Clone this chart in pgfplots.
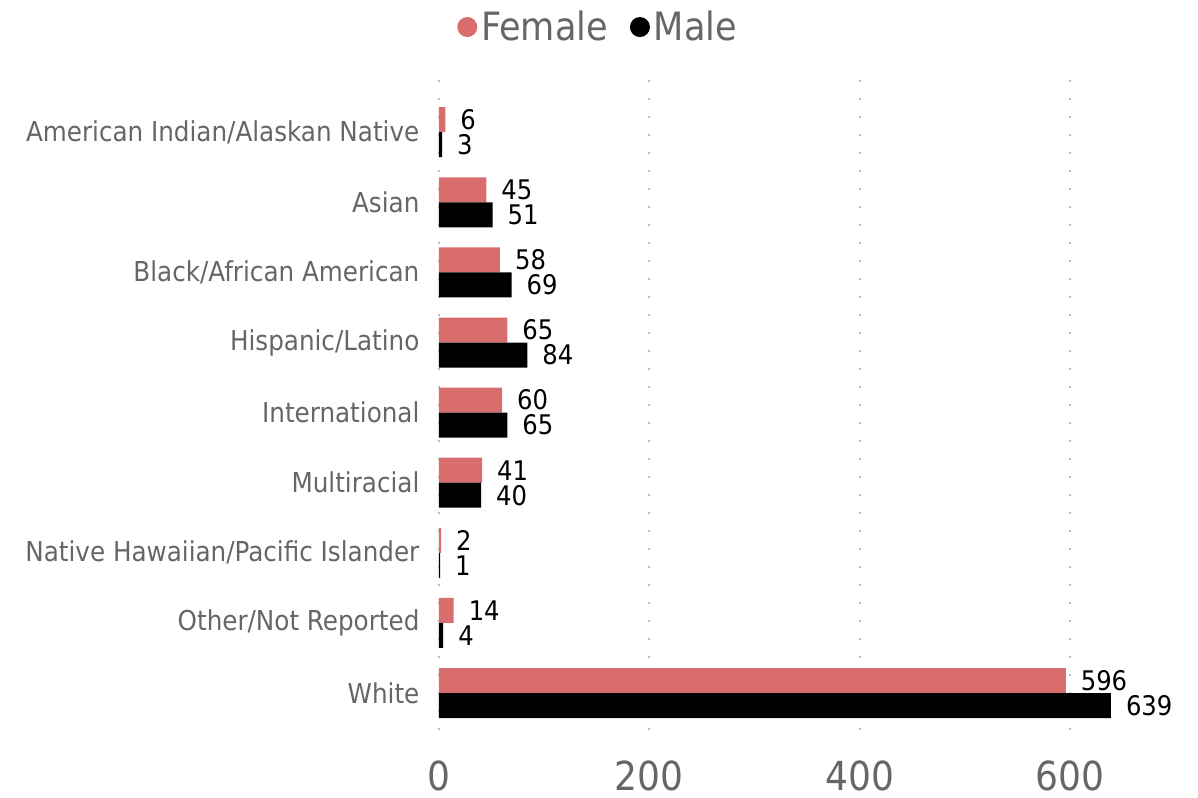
\documentclass[border=0pt]{standalone}
\usepackage{fontspec}
\setmainfont{DejaVu Sans Condensed}
\usepackage{pgfplots}
\pgfplotsset{compat=1.18}
\definecolor{fem}{HTML}{D96C6C}
\definecolor{txt}{HTML}{666666}
\begin{document}
\begin{tikzpicture}
\begin{axis}[
    xbar,
    y dir=reverse,
    x=0.5258pt, y=35.05pt,
    xmin=0, xmax=680,
    ymin=-0.75, ymax=8.75,
    axis line style={draw=none},
    major tick style={draw=none},
    xtick={0,200,400,600},
    ytick={0,...,8},
    yticklabels={American Indian/Alaskan Native,Asian,Black/African American,Hispanic/Latino,International,Multiracial,Native Hawaiian/Pacific Islander,Other/Not Reported,White},
    /pgf/number format/assume math mode=true,
    xticklabel style={font=\fontsize{20}{24}\selectfont, text=txt, yshift=-4pt},
    yticklabel style={font=\fontsize{13.7}{17}\selectfont, text=txt, xshift=-2pt},
    xmajorgrids,
    grid style={gray!50, line width=1pt, dash pattern=on 1pt off 8pt},
    bar width=12.5pt,
    nodes near coords,
    nodes near coords style={font=\fontsize{13.5}{16}\selectfont, text=black, anchor=west, xshift=4pt},
    legend columns=-1,
    legend style={draw=none, fill=none, at={(axis description cs:0.224,1.079)}, anchor=center,
      font=\fontsize{19.5}{23}\selectfont, text=txt,
      /tikz/every even column/.style={column sep=9pt},
      /tikz/every odd column/.style={column sep=0pt}},
    legend image code/.code={\fill (0.2cm,0cm) circle (5pt);},
    clip=false,
]
\addplot[fill=fem, draw=none, bar shift=6.25pt] coordinates {
(6,0) (45,1) (58,2) (65,3) (60,4) (41,5) (2,6) (14,7) (596,8)};
\addplot[fill=black, draw=none, bar shift=-6.25pt] coordinates {
(3,0) (51,1) (69,2) (84,3) (65,4) (40,5) (1,6) (4,7) (639,8)};
\legend{Female,Male}
\end{axis}
\path[use as bounding box] (-219.5pt,-22.7pt) rectangle (379.5pt,372.8pt);
\end{tikzpicture}
\end{document}
